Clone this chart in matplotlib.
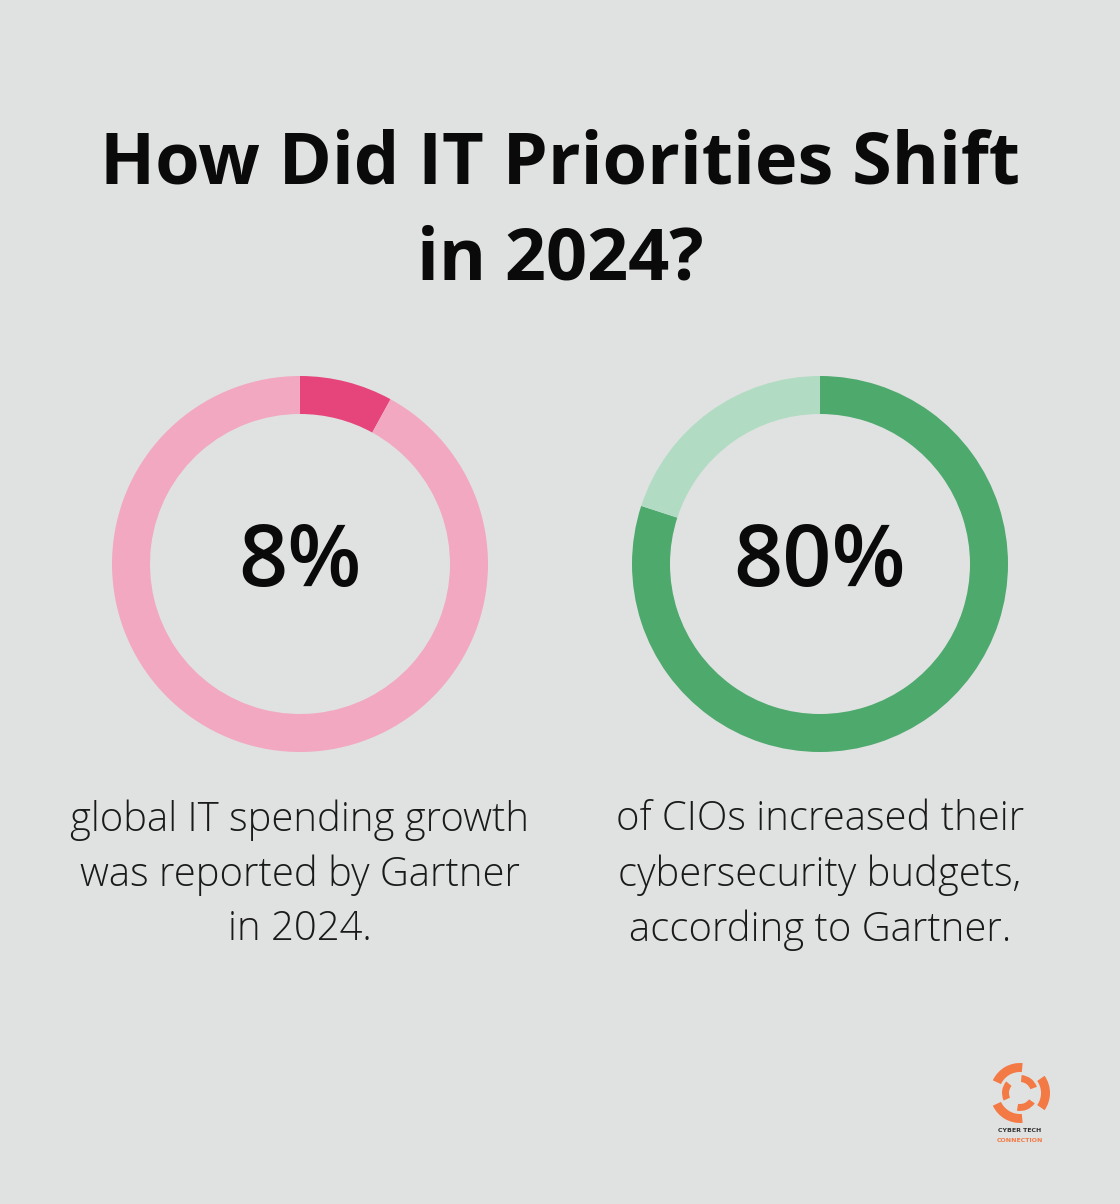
import matplotlib
matplotlib.use("Agg")
import matplotlib.pyplot as plt
from matplotlib.patches import Wedge

title_lines = ["How Did IT Priorities Shift", "in 2024?"]
values_left = [8, 92]
values_right = [80, 20]
labels_pct = ["8%", "80%"]
captions = [
    "global IT spending growth\nwas reported by Gartner\nin 2024.",
    "of CIOs increased their\ncybersecurity budgets,\naccording to Gartner.",
]
colors_left = ["#e5457a", "#f2a8c0"]
colors_right = ["#4ea96d", "#b1dcc3"]
bg = "#e0e2e1"

W, H = 1120, 1204
fig = plt.figure(figsize=(W / 100, H / 100), dpi=100, facecolor=bg)
ax = fig.add_axes([0, 0, 1, 1])
ax.set_facecolor(bg)

def Y(y):
    return H - y

centers = [(300, 564), (820, 564)]
for (cx, cy), vals, cols, pct, cap in zip(centers, [values_left, values_right],
                                           [colors_left, colors_right], labels_pct, captions):
    ax.pie(vals, colors=cols, center=(cx, Y(cy)), radius=188, startangle=90,
           counterclock=False, wedgeprops=dict(width=38, linewidth=0))
    ax.text(cx, Y(cy), pct, ha="center", va="center", fontsize=62,
            family="Open Sans", weight="semibold", color="#0a0a0a")
    ax.text(cx, Y(875), cap, ha="center", va="center", fontsize=28.8,
            family="Open Sans", weight="light", color="#1a1a1a", linespacing=1.43)

ax.text(560, Y(164), title_lines[0], ha="center", va="center", fontsize=51.8,
        family="Open Sans", weight="bold", color="#0a0a0a")
ax.text(560, Y(260), title_lines[1], ha="center", va="center", fontsize=51.8,
        family="Open Sans", weight="bold", color="#0a0a0a")

# logo
lc = (1020, Y(1093))
orange = "#f47a45"
for a in [90, 210, 330]:
    ax.add_patch(Wedge(lc, 30, a - 5, a + 65, width=9, color=orange, lw=0))
    ax.add_patch(Wedge(lc, 18, a + 50, a + 115, width=7, color=orange, lw=0))
ax.text(1020, Y(1130), "CYBER TECH", ha="center", va="center", fontsize=4.5,
        family="DejaVu Sans", weight="bold", color="#333333")
ax.text(1020, Y(1140), "CONNECTION", ha="center", va="center", fontsize=4.5,
        family="DejaVu Sans", weight="bold", color=orange)

ax.set_xlim(0, W)
ax.set_ylim(0, H)
ax.set_aspect("auto")
ax.axis("off")
fig.savefig("out.png", dpi=100, facecolor=bg)
